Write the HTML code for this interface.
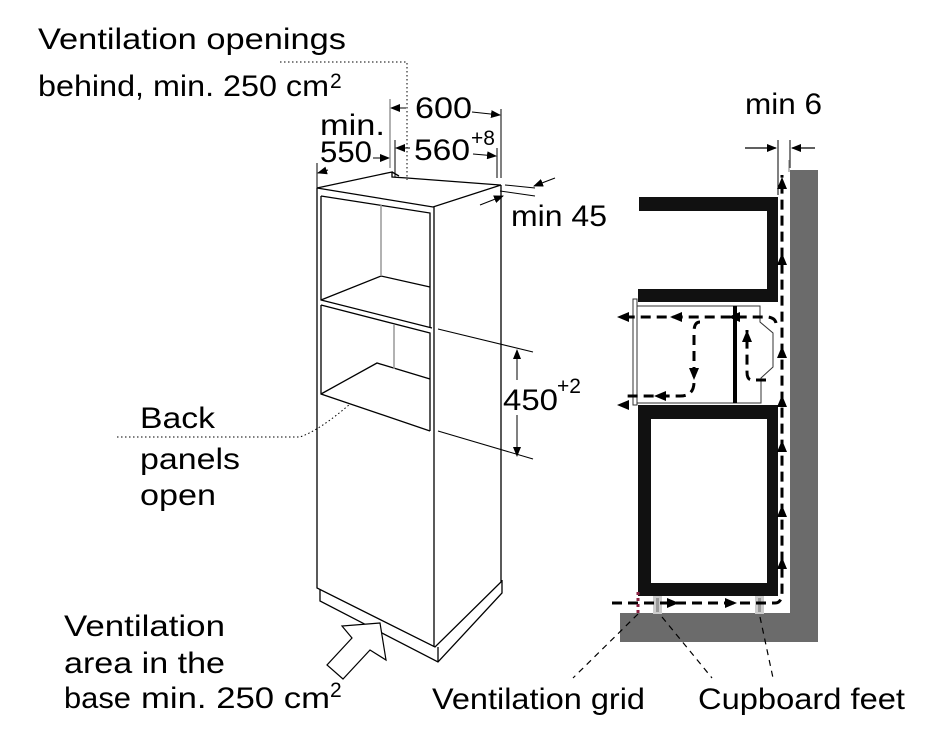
<!DOCTYPE html>
<html><head><meta charset="utf-8"><style>
html,body{margin:0;padding:0;background:#fff}
svg{display:block}
text{font-family:"Liberation Sans",Arial,sans-serif;fill:#000}
</style></head><body>
<svg width="938" height="754" viewBox="0 0 938 754" xmlns="http://www.w3.org/2000/svg">
<defs>
<marker id="a" markerWidth="10" markerHeight="8" refX="9" refY="4" orient="auto" markerUnits="userSpaceOnUse"><path d="M0,0 L10,4 L0,8 Z" fill="#000"/></marker>
</defs>
<g font-size="30" lengthAdjust="spacingAndGlyphs">
<text x="38" y="49" textLength="308" lengthAdjust="spacingAndGlyphs">Ventilation openings</text>
<text x="38" y="96" textLength="291" lengthAdjust="spacingAndGlyphs">behind, min. 250 cm</text>
<text x="320" y="135" textLength="65" lengthAdjust="spacingAndGlyphs">min.</text>
<text x="320" y="162" textLength="52" lengthAdjust="spacingAndGlyphs">550</text>
<text x="415" y="118" textLength="57" lengthAdjust="spacingAndGlyphs">600</text>
<text x="414" y="160" textLength="56" lengthAdjust="spacingAndGlyphs">560</text>
<text x="511" y="226" textLength="96" lengthAdjust="spacingAndGlyphs">min 45</text>
<text x="503" y="410" textLength="55" lengthAdjust="spacingAndGlyphs">450</text>
<text x="140" y="428" textLength="75" lengthAdjust="spacingAndGlyphs">Back</text>
<text x="140" y="469" textLength="100" lengthAdjust="spacingAndGlyphs">panels</text>
<text x="140" y="505" textLength="76" lengthAdjust="spacingAndGlyphs">open</text>
<text x="64" y="636" textLength="161" lengthAdjust="spacingAndGlyphs">Ventilation</text>
<text x="64" y="673" textLength="161" lengthAdjust="spacingAndGlyphs">area in the</text>
<text x="64" y="708" textLength="67" lengthAdjust="spacingAndGlyphs">base</text>
<text x="141" y="708" textLength="189" lengthAdjust="spacingAndGlyphs">min. 250 cm</text>
<text x="745" y="114" textLength="77" lengthAdjust="spacingAndGlyphs">min 6</text>
<text x="432" y="709" textLength="213" lengthAdjust="spacingAndGlyphs">Ventilation grid</text>
<text x="698" y="709" textLength="207" lengthAdjust="spacingAndGlyphs">Cupboard feet</text>
</g>
<g font-size="21">
<text x="330" y="88">2</text>
<text x="330" y="697">2</text>
<text x="471" y="145">+8</text>
<text x="557" y="393">+2</text>
</g>

<g stroke="#000" stroke-width="1" stroke-dasharray="1.5,2.5" fill="none">
<path d="M280,62 H407 V180"/>
<path d="M117,437 H300 Q320,430 350,404"/>
</g>

<g stroke="#000" stroke-width="1.3" fill="none">
<path d="M317,188 L392,172 L392,177 L407,178 L500,185 L501,185"/>
<path d="M317,188 L433,207 L501,185"/>
<path d="M392,172 L399,176"/>
<path d="M317,188 V588 L435,647 L501,582 V185"/>
<path d="M434,207 V647"/>
<path d="M320,590 V601 L438,662 L502,593 V580"/>
<path d="M438,647 V662"/>
<path d="M321,196 V300 L432,328"/>
<path d="M321,196 L430,213 V328"/>
<path d="M321,300 L381,276 L430,287"/>
<path d="M321,305 V394 L430,431"/>
<path d="M321,305 L430,333 V431"/>
<path d="M321,394 L377,363 L430,379"/>
</g>
<g stroke="#999" stroke-width="1.5">
<line x1="381" y1="205" x2="381" y2="276"/>
<line x1="394" y1="325" x2="394" y2="369"/>
<line x1="390" y1="99" x2="390" y2="168"/>
</g>

<g stroke="#000" stroke-width="1" fill="none">
<line x1="395" y1="140" x2="395" y2="177"/>
<line x1="501" y1="109" x2="501" y2="178"/>
<line x1="497" y1="148" x2="497" y2="178"/>
<line x1="317" y1="163" x2="317" y2="188"/>
<line x1="406" y1="108" x2="391" y2="108" marker-end="url(#a)"/>
<line x1="472" y1="112" x2="500" y2="115" marker-end="url(#a)"/>
<line x1="410" y1="148" x2="396" y2="148" marker-end="url(#a)"/>
<line x1="473" y1="154" x2="496" y2="156" marker-end="url(#a)"/>
<line x1="373" y1="158" x2="389" y2="158" marker-end="url(#a)"/>
<line x1="328" y1="170" x2="318" y2="173" marker-end="url(#a)"/>
<line x1="505" y1="185" x2="535" y2="188"/>
<line x1="500" y1="191" x2="535" y2="196"/>
<line x1="555" y1="178" x2="534" y2="186" marker-end="url(#a)"/>
<line x1="480" y1="205" x2="503" y2="196" marker-end="url(#a)"/>
<line x1="438" y1="329" x2="533" y2="352"/>
<line x1="438" y1="431" x2="533" y2="459"/>
<line x1="517" y1="380" x2="517" y2="350" marker-end="url(#a)"/>
<line x1="517" y1="415" x2="517" y2="456" marker-end="url(#a)"/>
</g>
<path d="M380,623 L342,626 L352,638 L327,665 L343,679 L370,650 L386,660 Z" fill="#fff" stroke="#000" stroke-width="1.2"/>

<rect x="790" y="170" width="28" height="472" fill="#6b6b6b"/>
<rect x="620" y="613" width="198" height="29" fill="#6b6b6b"/>
<rect x="788" y="160" width="2" height="12" fill="#bbb"/>
<line x1="778" y1="140" x2="778" y2="195" stroke="#000" stroke-width="1"/>
<line x1="790" y1="140" x2="790" y2="168" stroke="#000" stroke-width="1"/>
<line x1="745" y1="148" x2="776" y2="148" stroke="#000" stroke-width="1.2" marker-end="url(#a)"/>
<line x1="815" y1="148" x2="792" y2="148" stroke="#000" stroke-width="1.2" marker-end="url(#a)"/>
<path d="M639,197 H778 V302 H638 V289 H767 V211 H639 Z" fill="#111"/>
<path d="M637,306 H760 V322 L773,333 V367 L761,378 V403 H637 Z" fill="none" stroke="#333" stroke-width="1"/>
<rect x="633" y="299" width="4" height="106" fill="#fff" stroke="#333" stroke-width="1"/>
<rect x="733" y="306" width="4" height="97" fill="#000"/>
<path d="M638,405 H778 V596 H638 Z M651,419 V583 H767 V419 Z" fill="#111" fill-rule="evenodd"/>
<rect x="653" y="596" width="9" height="18" fill="#ccc"/>
<rect x="755" y="596" width="9" height="18" fill="#ccc"/>
<rect x="656" y="598" width="3" height="14" fill="#999"/>
<rect x="758" y="598" width="3" height="14" fill="#999"/>
<g stroke="#000" stroke-width="3" fill="none" stroke-dasharray="10,6">
<path d="M612,603 H775 Q782,603 782,592 V175"/>
<path d="M776,323 Q775,318 768,317 H620"/>
<path d="M700,322 Q694,322 694,332 V382 Q694,396 680,396 H625"/>
<path d="M766,380 H752 Q747,380 747,372 V330"/>
</g>
<g stroke="#8a2040" stroke-width="3" stroke-dasharray="3,3"><line x1="638" y1="592" x2="638" y2="614"/></g>
<g fill="#000">
<path d="M782,177 l-5,12 h10 Z"/><path d="M782,253 l-5,12 h10 Z"/>
<path d="M782,346 l-5,12 h10 Z"/><path d="M782,395 l-5,12 h10 Z"/>
<path d="M782,440 l-5,12 h10 Z"/><path d="M782,505 l-5,12 h10 Z"/>
<path d="M782,557 l-5,12 h10 Z"/>
<path d="M747,330 l-5,12 h10 Z"/>
<path d="M694,380 l-5,-12 h10 Z"/>
<path d="M617,317 l12,-5 v10 Z"/><path d="M670,317 l12,-5 v10 Z"/><path d="M728,317 l12,-5 v10 Z"/>
<path d="M654,396 l12,-5 v10 Z"/><path d="M617,405 l12,-5 v10 Z"/>
<path d="M679,603 l-12,-5 v10 Z"/><path d="M737,603 l-12,-5 v10 Z"/>
</g>
<g stroke="#000" stroke-width="1.2" stroke-dasharray="6,5" fill="none">
<line x1="638" y1="614" x2="573" y2="678"/>
<line x1="662" y1="617" x2="712" y2="678"/>
<line x1="760" y1="617" x2="773" y2="678"/>
</g>
</svg>
</body></html>
